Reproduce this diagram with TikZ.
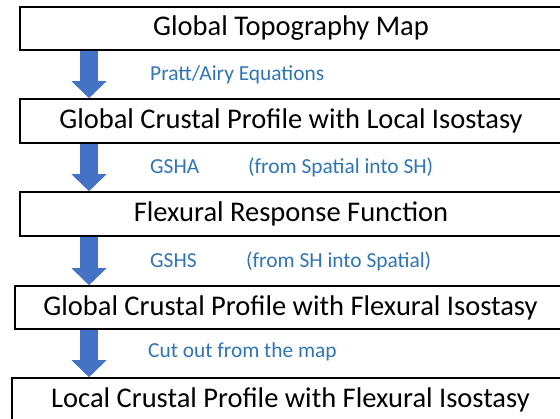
\documentclass[tikz,border=0pt]{standalone}
\usepackage{fontspec}
\setmainfont{Carlito}
\usetikzlibrary{arrows.meta}
\definecolor{flowblue}{RGB}{68,114,196}
\definecolor{labelblue}{RGB}{46,117,182}
\tikzset{
  stagebox/.style={draw=black, line width=1.6pt, fill=white, inner sep=0pt,
    minimum height=43pt, font=\fontsize{28.5}{32}\selectfont},
  steplabel/.style={anchor=west, inner sep=0pt, text=labelblue,
    font=\fontsize{21.4}{24}\selectfont},
  flowarrow/.style={draw=flowblue, line width=18pt,
    -{Triangle[width=34pt, length=17pt]}}
}
\begin{document}
\begin{tikzpicture}[x=1pt, y=-1pt]
  \useasboundingbox (0,0) rectangle (560,418);
  \clip (0,0) rectangle (560,418);

  % processing stages
  \node[stagebox, minimum width=542pt] (b1) at (291,28.5) {Global Topography Map};
  \node[stagebox, minimum width=542pt, minimum height=44pt] (b2) at (291,121) {Global Crustal Profile with Local Isostasy};
  \node[stagebox, minimum width=542pt, minimum height=44pt] (b3) at (291,214) {Flexural Response Function};
  \node[stagebox, minimum width=551pt] (b4) at (290.5,307.5) {Global Crustal Profile with Flexural Isostasy};
  \node[stagebox, minimum width=557pt] (b5) at (290.5,399.5) {Local Crustal Profile with Flexural Isostasy};

  % column of the flow arrows
  \coordinate (ax) at (89,0);
  \draw[flowarrow] (b1.south -| ax) -- (b2.north -| ax);
  \draw[flowarrow] (b2.south -| ax) -- (b3.north -| ax);
  \draw[flowarrow] (b3.south -| ax) -- (b4.north -| ax);
  \draw[flowarrow] (b4.south -| ax) -- (b5.north -| ax);

  % step descriptions
  \node[steplabel] (l1) at (150,75) {Pratt/Airy Equations};
  \node[steplabel] (l2) at (150,167) {GSHA};
  \node[steplabel] (l2b) at (248,167) {(from Spatial into SH)};
  \node[steplabel] (l3) at (150,261) {GSHS};
  \node[steplabel] (l3b) at (246,261) {(from SH into Spatial)};
  \node[steplabel] (l4) at (148,352) {Cut out from the map};
\end{tikzpicture}
\end{document}
